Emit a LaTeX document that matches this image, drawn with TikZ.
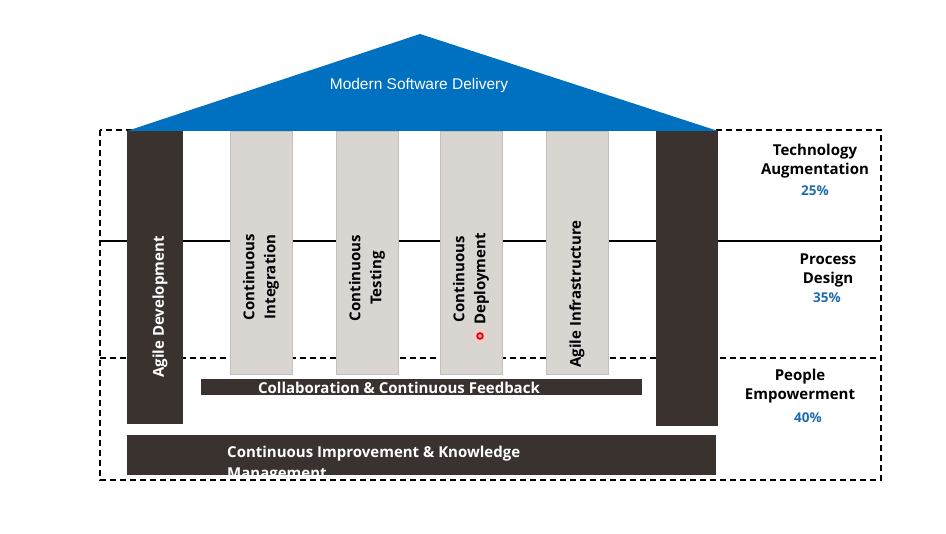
\documentclass[tikz,border=0pt]{standalone}
\usepackage{fontspec}
\setmainfont{Open Sans}
\newfontfamily\rooffont{Liberation Sans}
\usetikzlibrary{positioning}
\definecolor{roofblue}{HTML}{0070C0}
\definecolor{pillardark}{HTML}{3A322E}
\definecolor{pillargray}{HTML}{D9D5D1}
\definecolor{pillaredge}{HTML}{C4BFBB}
\definecolor{pctblue}{HTML}{1F6BB0}
\tikzset{
  frame/.style={line width=1.2pt, dash pattern=on 6pt off 4pt},
  divider/.style={line width=1.2pt},
  darkcol/.style={fill=pillardark, draw=none, inner sep=0pt},
  graycol/.style={fill=pillargray, draw=pillaredge, line width=0.8pt, inner sep=0pt,
    minimum width=62pt, minimum height=243pt},
  coltext/.style={rotate=90, align=center, inner sep=0pt, text=black,
    font=\bfseries\fontsize{15}{21}\selectfont},
  bartext/.style={inner sep=0pt, text=white, font=\bfseries\fontsize{15}{21}\selectfont},
  rooftext/.style={text=white, inner sep=0pt, font=\rooffont\fontsize{15.5}{17}\selectfont},
  layer/.style={align=center, inner sep=0pt, font=\bfseries\fontsize{15}{19}\selectfont},
  pct/.style={inner sep=0pt, text=pctblue, font=\bfseries\fontsize{13.5}{16}\selectfont}
}
% one light pillar with its rotated caption
\newcommand{\midpillar}[4]{
  \node[graycol] (#1) at (#2,252.5) {};
  \node[coltext] (#1-text) at (#2,#3) {#4};
}
\begin{document}
\begin{tikzpicture}[x=1pt,y=-1pt]
\useasboundingbox (0,0) rectangle (946,534);
% layer frame and dividers (behind the house)
\draw[frame] (100,130) rectangle (881,480);
\draw[divider] (100,241) -- (881,241);
\draw[frame] (100,358) -- (881,358);
% roof
\fill[roofblue] (127,131) -- (420,34) -- (718,131) -- cycle;
\node[rooftext] (roof) at (419,85) {Modern Software Delivery};
% outer dark pillars
\node[darkcol, minimum width=56pt, minimum height=293pt] (agiledev) at (155,277.5) {};
\node[coltext, text=white] (agiledev-text) at (160,307) {Agile Development};
\node[darkcol, minimum width=62pt, minimum height=295pt] (rightcol) at (687,278.5) {};
% inner pillars
\foreach \name/\x/\y/\txt in {ci/261/277/{Continuous\\Integration},
    ct/367/278/{Continuous\\Testing},
    cd/471/279/{Continuous\\Deployment},
    ai/577/294/{Agile Infrastructure}} {
  \midpillar{\name}{\x}{\y}{\txt}
}
% cursor mark
\fill[red!20, opacity=0.8] (480,336) circle (7);
\fill[red!40, opacity=0.8] (480,336) circle (4.5);
\draw[red!85!black, line width=1.6pt] (480,336) circle (2.8);
% beams
\node[darkcol, minimum width=441pt, minimum height=16pt] (collab) at (421.5,387) {};
\node[bartext] (collab-text) at (399,387.5) {Collaboration \& Continuous Feedback};
\node[darkcol, minimum width=589pt, minimum height=40pt] (cikm) at (421.5,455) {};
\begin{scope}
  \clip (cikm.south west) rectangle (cikm.north east);
  \node[bartext, anchor=north west, align=left] (cikm-text) at (227,446)
    {Continuous Improvement \& Knowledge\\Management};
\end{scope}
% layer captions
\node[layer] (tech) at (815,161) {Technology\\Augmentation};
\node[pct] (tech-pct) at (815,190.5) {25\%};
\node[layer] (proc) at (828,270) {Process\\Design};
\node[pct] (proc-pct) at (827,298) {35\%};
\node[layer] (people) at (800,386) {People\\Empowerment};
\node[pct] (people-pct) at (808,418) {40\%};
\end{tikzpicture}
\end{document}
